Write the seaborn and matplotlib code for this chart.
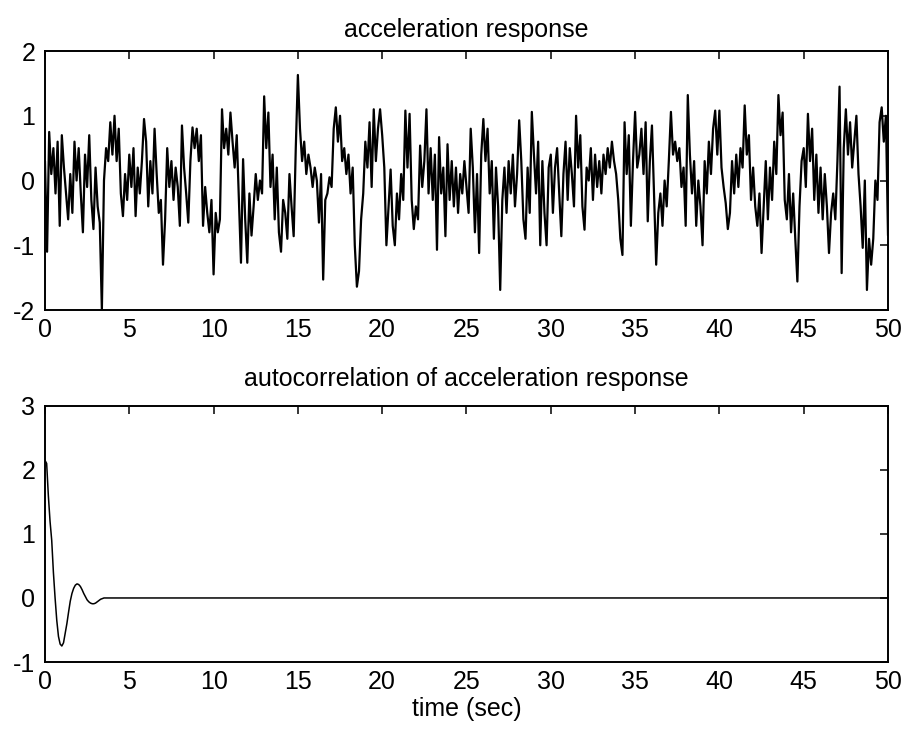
import numpy as np
import pandas as pd
import seaborn as sns
import matplotlib.pyplot as plt

accel = [
    0.3, -1.1, 0.75, 0.1, 0.5, -0.2, 0.6, -0.7,
    0.7, 0.2, -0.2, -0.6, 0.1, -0.5, 0.6, 0.0,
    0.5, -0.2, -0.8, 0.4, -0.1, 0.7, -0.3, -0.75,
    0.2, -0.4, -0.65, -2.0, 0.0, 0.5, 0.3, 0.9,
    0.4, 1.0, 0.3, 0.8, -0.2, -0.55, 0.1, -0.3,
    0.4, -0.1, 0.5, -0.55, 0.2, -0.2, 0.3, 0.95,
    0.6, -0.4, 0.3, -0.2, 0.8, 0.1, -0.5, -0.3,
    -1.3, -0.6, 0.5, -0.1, 0.3, -0.3, 0.2, -0.1,
    -0.7, 0.85, 0.2, -0.2, -0.65, 0.3, 0.82, 0.5,
    0.8, 0.3, 0.7, -0.7, -0.1, -0.5, -0.8, -0.3,
    -1.45, -0.5, -0.8, -0.6, 1.1, 0.5, 0.8, 0.4,
    1.05, 0.6, 0.2, 0.7, -0.3, -1.27, 0.33, -0.6,
    -1.27, -0.2, -0.85, -0.4, 0.1, -0.3, 0.0, -0.2,
    1.3, 0.5, 1.05, -0.1, 0.4, -0.6, 0.2, -0.8,
    -1.1, -0.3, -0.5, -0.9, 0.1, -0.4, -0.86, 0.5,
    1.63, 0.8, 0.3, 0.6, 0.1, 0.4, 0.2, -0.1,
    0.2, 0.0, -0.65, 0.1, -1.53, -0.3, -0.2, 0.05,
    -0.1, 0.8, 1.13, 0.6, 1.0, 0.3, 0.5, 0.1,
    0.4, -0.2, 0.2, -1.0, -1.64, -1.4, -0.6, -0.2,
    0.6, 0.2, 0.9, -0.1, 1.1, 0.3, 0.8, 1.1,
    0.7, 0.2, -1.0, -0.4, 0.17, -0.7, -1.0, -0.2,
    -0.6, 0.1, -0.3, 1.08, 0.2, 1.03, -0.3, -0.75,
    -0.4, -0.6, 0.54, -0.1, 0.3, 1.1, -0.2, 0.5,
    -0.3, 0.4, -1.07, 0.67, -0.2, 0.2, -0.86, 0.56,
    -0.3, 0.3, -0.4, 0.2, -0.5, 0.1, -0.2, 0.3,
    -0.1, -0.5, 0.8, 0.2, -0.8, 0.1, -1.12, 0.4,
    0.95, 0.3, 0.8, -0.2, 0.3, -0.9, 0.2, -0.4,
    -1.69, -0.3, 0.2, -0.5, 0.3, -0.2, 0.4, -0.4,
    0.1, 0.93, 0.3, -0.6, -0.9, 0.2, -0.5, 1.06,
    0.4, -0.2, 0.6, -1.0, 0.3, -0.5, -1.0, 0.2,
    0.4, -0.5, 0.2, 0.5, -0.2, -0.86, 0.1, 0.6,
    -0.3, 0.5, 0.1, -0.4, 1.0, 0.2, 0.7, -0.4,
    -0.76, 0.2, 0.0, 0.5, -0.3, 0.4, -0.1, 0.3,
    -0.2, 0.4, 0.1, 0.5, 0.2, 0.6, 0.3, 0.1,
    -0.3, -0.9, -1.15, 0.9, 0.1, 0.7, -0.7, 0.3,
    1.06, 0.2, 0.4, 0.8, 0.1, 0.9, -0.63, 0.3,
    0.85, -0.2, -1.3, -0.5, -0.2, -0.7, 0.0, -0.4,
    0.3, 1.06, 0.4, 0.6, 0.3, 0.5, -0.1, 0.2,
    -0.7, 1.32, 0.4, -0.2, 0.3, -0.7, 0.0, -0.4,
    -1.0, 0.3, -0.2, 0.6, 0.1, 0.8, 1.08, 0.4,
    1.08, 0.2, -0.1, -0.35, -0.75, -0.5, 0.3, -0.2,
    0.4, -0.1, 0.5, 0.2, 1.16, 0.4, 0.7, -0.3,
    0.2, -0.4, -0.7, -0.2, -1.12, -0.4, 0.3, -0.6,
    0.2, -0.3, 0.6, 0.1, 1.32, 0.7, 1.05, -0.3,
    -0.6, 0.1, -0.8, -0.2, -0.9, -1.56, -0.4, 0.3,
    0.5, -0.1, 1.03, 0.3, 0.8, -0.3, 0.4, -0.5,
    0.2, -0.6, 0.1, -0.4, -1.12, -0.5, -0.2, -0.6,
    0.3, 1.45, -1.43, 0.5, 1.1, 0.4, 0.9, 0.2,
    0.6, 1.0, 0.1, -0.4, -1.04, 0.0, -1.69, -0.9,
    -1.3, -0.9, 0.0, -0.3, 0.9, 1.13, 0.6, 1.0,
    -0.85,
]
t_acc = np.arange(len(accel)) * 0.125

# autocorrelation, every 0.1 s up to 4 s, then flat at zero
acf_early = [
    2.15, 2.1, 1.6, 1.2, 0.9, 0.4, 0.0, -0.35, -0.6, -0.72,
    -0.75, -0.7, -0.55, -0.4, -0.22, -0.05, 0.07, 0.15, 0.2, 0.22,
    0.21, 0.18, 0.13, 0.07, 0.02, -0.03, -0.06, -0.08, -0.09, -0.09,
    -0.08, -0.06, -0.04, -0.02, -0.01, 0.0, 0.0, 0.0, 0.0, 0.0, 0.0,
]
lag = list(np.arange(len(acf_early)) * 0.1) + [50.0]
acf = acf_early + [0.0]

top = pd.DataFrame({"t": t_acc, "a": accel})
bot = pd.DataFrame({"t": lag, "r": acf})

sns.set_style("white")
plt.rcParams["font.family"] = ["Liberation Sans", "DejaVu Sans"]
plt.rcParams["axes.unicode_minus"] = False
plt.rcParams["text.color"] = "black"
plt.rcParams["xtick.color"] = "black"
plt.rcParams["ytick.color"] = "black"
plt.rcParams["axes.labelcolor"] = "black"

fig = plt.figure(figsize=(9.03, 7.32), dpi=100)
ax1 = fig.add_axes([0.0498, 0.5765, 0.9336, 0.3538])
ax2 = fig.add_axes([0.0498, 0.0956, 0.9336, 0.3500])

sns.lineplot(data=top, x="t", y="a", ax=ax1, color="black", linewidth=1.6, estimator=None)
sns.lineplot(data=bot, x="t", y="r", ax=ax2, color="black", linewidth=1.1, estimator=None)

ax1.set_xlim(0, 50)
ax1.set_ylim(-2, 2)
ax1.set_yticks([-2, -1, 0, 1, 2])
ax2.set_xlim(0, 50)
ax2.set_ylim(-1, 3)
ax2.set_yticks([-1, 0, 1, 2, 3])

for ax in (ax1, ax2):
    ax.set_xticks(range(0, 51, 5))
    ax.tick_params(direction="in", top=True, right=True, length=6, width=1.1,
                   labelsize=18, colors="black")
    ax.tick_params(axis="x", pad=6)
    ax.tick_params(axis="y", pad=7)
    for sp in ax.spines.values():
        sp.set_visible(True)
        sp.set_color("black")
        sp.set_linewidth(1.4)
    ax.set_xlabel("")
    ax.set_ylabel("")

ax1.set_title("acceleration response", fontsize=18, pad=10, color="black")
ax2.set_title("autocorrelation of acceleration response", fontsize=18, pad=14, color="black")
ax2.set_xlabel("time (sec)", fontsize=18, labelpad=2, color="black")

fig.savefig("out.png", dpi=100)
